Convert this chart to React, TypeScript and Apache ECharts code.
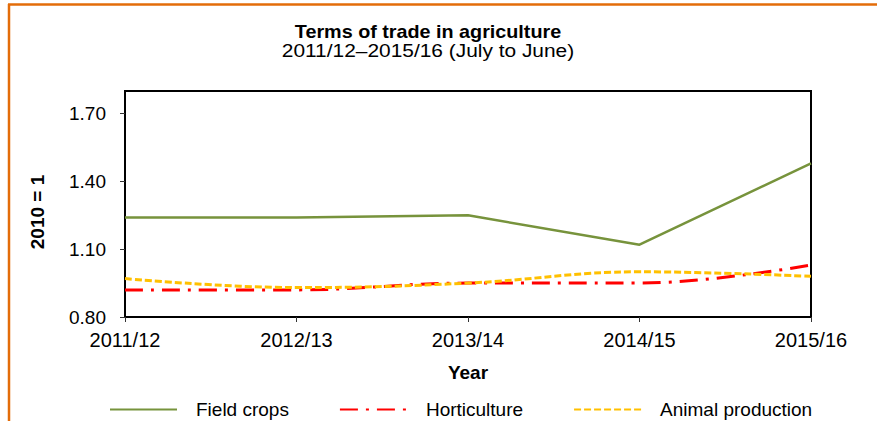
import React, { useEffect, useRef } from "react";
import * as echarts from "echarts";

const categories = ["2011/12", "2012/13", "2013/14", "2014/15", "2015/16"];
const fieldCrops = [1.24, 1.24, 1.25, 1.12, 1.48];
const horticulture = [0.92, 0.92, 0.95, 0.95, 1.03];
const animalProduction = [0.97, 0.93, 0.95, 1.0, 0.98];

const FONT = "'Liberation Sans', Arial, sans-serif";

export default function App() {
  const ref = useRef<HTMLDivElement>(null);
  useEffect(() => {
    if (!ref.current) return;
    const chart = echarts.init(ref.current, null, { renderer: "svg" });
    chart.setOption({
      animation: false,
      backgroundColor: "#ffffff",
      textStyle: { fontFamily: FONT },
      graphic: [
        {
          type: "line",
          shape: { x1: 8, y1: 4.5, x2: 877, y2: 4.5 },
          style: { stroke: "#E36C09", lineWidth: 2.5 },
        },
        {
          type: "line",
          shape: { x1: 9, y1: 4, x2: 9, y2: 421 },
          style: { stroke: "#E36C09", lineWidth: 2.5 },
        },
        {
          type: "text",
          x: 428,
          y: 31,
          scaleX: 1.04,
          style: {
            text: "Terms of trade in agriculture",
            font: `bold 19px ${FONT}`,
            fill: "#000",
            textAlign: "center",
            textVerticalAlign: "middle",
          },
        },
        {
          type: "text",
          x: 428,
          y: 50,
          scaleX: 1.1,
          style: {
            text: "2011/12\u20132015/16 (July to June)",
            font: `19px ${FONT}`,
            fill: "#000",
            textAlign: "center",
            textVerticalAlign: "middle",
          },
        },
        {
          type: "text",
          x: 37,
          y: 212,
          rotation: Math.PI / 2,
          style: {
            text: "2010 = 1",
            font: `bold 19px ${FONT}`,
            fill: "#000",
            textAlign: "center",
            textVerticalAlign: "middle",
          },
        },
      ],
      grid: {
        left: 125,
        right: 66,
        top: 91,
        bottom: 104,
        show: true,
        borderColor: "#000",
        borderWidth: 2,
        backgroundColor: "transparent",
      },
      xAxis: {
        type: "category",
        data: categories,
        boundaryGap: false,
        name: "Year",
        nameLocation: "middle",
        nameGap: 46,
        nameTextStyle: { fontSize: 19, fontWeight: "bold", color: "#000", fontFamily: FONT },
        axisLine: { lineStyle: { color: "#000", width: 2 } },
        axisTick: { show: true, length: 5, lineStyle: { color: "#333", width: 1 } },
        axisLabel: { fontSize: 20, color: "#000", margin: 13, fontFamily: FONT },
        splitLine: { show: false },
      },
      yAxis: {
        type: "value",
        min: 0.8,
        max: 1.8,
        interval: 0.3,
        axisLine: { show: true, lineStyle: { color: "#000", width: 2 } },
        axisTick: { show: true, length: 5, lineStyle: { color: "#333", width: 1 } },
        axisLabel: {
          fontSize: 19,
          color: "#000",
          margin: 19,
          fontFamily: FONT,
          showMaxLabel: false,
          formatter: (v: number) => (Math.abs(v - 1.8) < 1e-6 ? "" : v.toFixed(2)),
        },
        splitLine: { show: false },
      },
      legend: {
        left: 104,
        top: 395,
        itemWidth: 67,
        itemHeight: 10,
        itemGap: 50,
        itemStyle: { opacity: 0 },
        textStyle: { fontSize: 19, color: "#000", fontFamily: FONT, padding: [0, 0, 0, 14] },
        data: ["Field crops", "Horticulture", "Animal production"],
      },
      series: [
        {
          name: "Field crops",
          type: "line",
          data: fieldCrops,
          symbol: "none",
          lineStyle: { color: "#77933C", width: 2.5 },
          itemStyle: { color: "#77933C" },
        },
        {
          name: "Horticulture",
          type: "line",
          data: horticulture,
          symbol: "none",
          smooth: 0.4,
          lineStyle: { color: "#FF0000", width: 3, type: [18, 8, 3, 8] },
          itemStyle: { color: "#FF0000" },
        },
        {
          name: "Animal production",
          type: "line",
          data: animalProduction,
          symbol: "none",
          smooth: 0.4,
          lineStyle: { color: "#FFC000", width: 3, type: [7, 3] },
          itemStyle: { color: "#FFC000" },
        },
      ],
    });
    return () => chart.dispose();
  }, []);
  return (
    <div
      ref={ref}
      style={{ position: "absolute", left: 0, top: 0, width: 877, height: 421 }}
    />
  );
}
